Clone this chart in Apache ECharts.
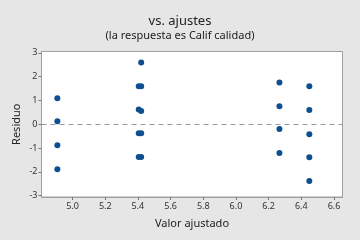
<!DOCTYPE html>
<html><head><meta charset="utf-8">
<script src="https://cdn.jsdelivr.net/npm/echarts@6/dist/echarts.min.js"></script>
<style>html,body{margin:0;padding:0;background:#e6e6e6}#c{width:360px;height:240px}</style>
</head><body><div id="c"></div>
<script>
var fitted = [4.907,4.907,4.907,4.907, 5.405,5.405,5.405,5.405, 5.42,5.42,5.42,5.42,5.42, 6.266,6.266,6.266,6.266, 6.449,6.449,6.449,6.449,6.449];
var residuals = [1.09,0.13,-0.88,-1.89, 1.6,0.62,-0.38,-1.38, 2.6,1.6,0.56,-0.38,-1.38, 1.76,0.76,-0.2,-1.21, 1.6,0.6,-0.42,-1.39,-2.39];
var xTicks = [5.0,5.2,5.4,5.6,5.8,6.0,6.2,6.4,6.6];
var yTicks = [-3,-2,-1,0,1,2,3];
var title = 'vs. ajustes';
var subtitle = '(la respuesta es Calif calidad)';
var xName = 'Valor ajustado';
var yName = 'Residuo';

var pts = fitted.map(function(x,i){return [x,residuals[i]];});
var font = 'Noto Sans';
var chart = echarts.init(document.getElementById('c'));
chart.setOption({
  backgroundColor:'#e6e6e6',
  animation:false,
  title:{text:title, subtext:subtitle, left:'center', top:10, itemGap:2,
    textStyle:{fontFamily:font,fontSize:13,fontWeight:'normal',color:'#222'},
    subtextStyle:{fontFamily:font,fontSize:11,color:'#222'}},
  grid:{left:41.5,right:17.5,top:51.5,bottom:43,show:true,backgroundColor:'#fff',borderColor:'#a0a0a0',borderWidth:1},
  xAxis:{type:'value',min:4.81,max:6.652,
    name:xName,nameLocation:'middle',nameGap:21,nameMoveOverlap:false,
    nameTextStyle:{fontFamily:font,fontSize:11,color:'#222'},
    axisLine:{show:true,onZero:false,lineStyle:{color:'#a0a0a0'}},
    axisTick:{show:true,length:3,customValues:xTicks,lineStyle:{color:'#777'}},
    axisLabel:{customValues:xTicks,fontFamily:font,fontSize:9,color:'#333',margin:5,
      formatter:function(v){return v.toFixed(1);}},
    splitLine:{show:false}},
  yAxis:{type:'value',min:-3.06,max:3.06,
    name:yName,nameLocation:'middle',nameGap:19,nameMoveOverlap:false,
    nameTextStyle:{fontFamily:font,fontSize:11,color:'#222'},
    axisLine:{show:true,onZero:false,lineStyle:{color:'#a0a0a0'}},
    axisTick:{show:true,length:3,customValues:yTicks,lineStyle:{color:'#777'}},
    axisLabel:{customValues:yTicks,fontFamily:font,fontSize:9,color:'#333',margin:4},
    splitLine:{show:false}},
  series:[{type:'scatter',data:pts,symbolSize:6,itemStyle:{color:'#0d4f8f',opacity:1},
    markLine:{silent:true,symbol:'none',label:{show:false},
      lineStyle:{type:[5,4],color:'#999',width:1},data:[{yAxis:0}]}}]
});
</script></body></html>
